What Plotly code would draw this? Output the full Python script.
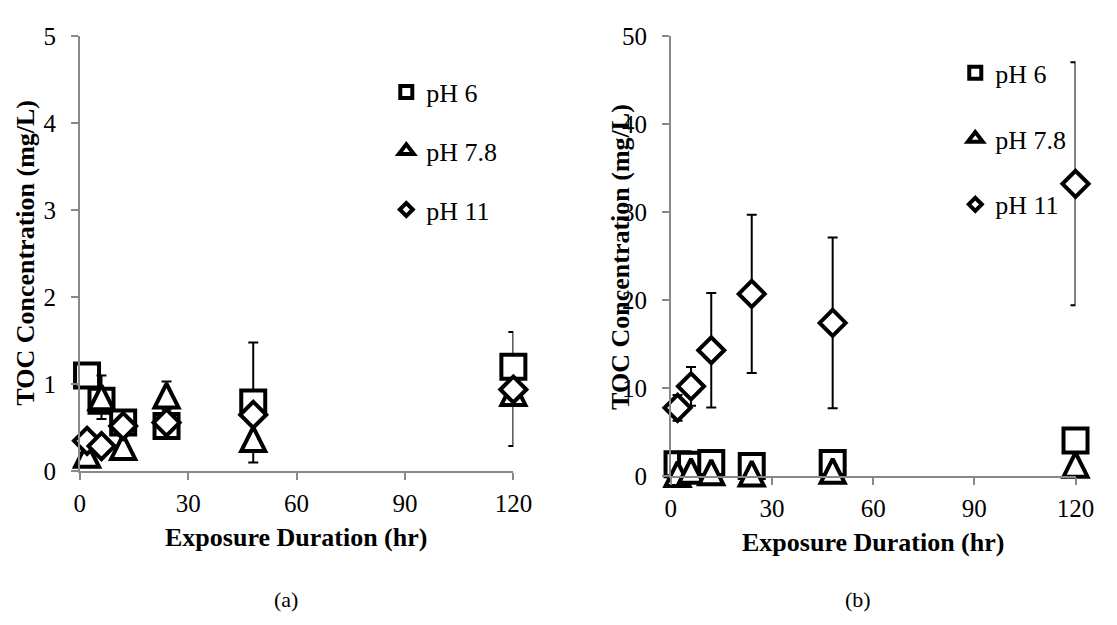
import plotly.graph_objects as go

# ---------------- data ----------------
hours = [2, 6, 12, 24, 48, 120]

# panel (a)
a_ph6 = [1.10, 0.81, 0.56, 0.52, 0.79, 1.20]
a_ph78 = [0.19, 0.85, 0.28, 0.87, 0.37, 0.90]
a_ph11 = [0.35, 0.29, 0.52, 0.56, 0.65, 0.94]
a_ph6_err_plus = [None, None, None, None, 0.69, 0.40]
a_ph6_err_minus = [None, None, None, None, 0.69, 0.91]
a_ph78_err = [None, 0.25, None, 0.16, None, None]

# panel (b)
b_ph6 = [1.35, 1.30, 1.50, 1.15, 1.50, 4.05]
b_ph78 = [0.25, 0.60, 0.45, 0.30, 0.60, 1.30]
b_ph11 = [7.75, 10.2, 14.3, 20.7, 17.4, 33.2]
b_ph11_err = [1.45, 2.2, 6.5, 9.0, 9.7, 13.8]

series_names = ["pH 6", "pH 7.8", "pH 11"]
x_ticks = [0, 30, 60, 90, 120]
a_y_ticks = [0, 1, 2, 3, 4, 5]
b_y_ticks = [0, 10, 20, 30, 40, 50]

x_title = "Exposure Duration (hr)"
y_title = "TOC Concentration (mg/L)"
captions = ["(a)", "(b)"]

# ---------------- style ----------------
FONT = "Liberation Serif, Times New Roman, serif"
AX_COL = "#898989"
LW = 4
SQ = 24
TRI = 24
DIA = 20

def sym(kind, size, legend=False):
    if kind == "square":
        return dict(symbol="square", size=size, color="white",
                    line=dict(color="black", width=LW))
    if kind == "triangle":
        if legend:
            return dict(symbol="triangle-up", size=size, color="white",
                        line=dict(color="black", width=LW))
        return dict(symbol="arrow-down", angle=180, standoff=size / 2, size=size,
                    color="white", line=dict(color="black", width=LW))
    return dict(symbol="diamond", size=size, color="white",
                line=dict(color="black", width=LW))

def err(plus, minus=None):
    d = dict(type="data", array=plus, color="black", thickness=2, width=5,
             visible=True)
    if minus is not None:
        d["symmetric"] = False
        d["arrayminus"] = minus
    return d

fig = go.Figure()

# panel (a)
fig.add_trace(go.Scatter(x=hours, y=a_ph6, mode="markers", marker=sym("square", SQ),
                         error_y=err(a_ph6_err_plus, a_ph6_err_minus),
                         cliponaxis=False, showlegend=False, xaxis="x", yaxis="y"))
fig.add_trace(go.Scatter(x=hours, y=a_ph78, mode="markers", marker=sym("triangle", TRI),
                         error_y=err(a_ph78_err),
                         cliponaxis=False, showlegend=False, xaxis="x", yaxis="y"))
fig.add_trace(go.Scatter(x=hours, y=a_ph11, mode="markers", marker=sym("diamond", DIA),
                         cliponaxis=False, showlegend=False, xaxis="x", yaxis="y"))

# panel (b)
fig.add_trace(go.Scatter(x=hours, y=b_ph6, mode="markers", marker=sym("square", SQ),
                         cliponaxis=False, showlegend=False, xaxis="x2", yaxis="y2"))
fig.add_trace(go.Scatter(x=hours, y=b_ph78, mode="markers", marker=sym("triangle", TRI),
                         cliponaxis=False, showlegend=False, xaxis="x2", yaxis="y2"))
fig.add_trace(go.Scatter(x=hours, y=b_ph11, mode="markers", marker=sym("diamond", DIA),
                         error_y=err(b_ph11_err),
                         cliponaxis=False, showlegend=False, xaxis="x2", yaxis="y2"))

# legend entries (small symbols)
kinds = ["square", "triangle", "diamond"]
leg_sizes = [12, 13, 10]
for lg, xa, ya in [("legend", "x", "y"), ("legend2", "x2", "y2")]:
    for i, (name, kind) in enumerate(zip(series_names, kinds)):
        fig.add_trace(go.Scatter(x=[None], y=[None], mode="markers", name=name,
                                 marker=sym(kind, leg_sizes[i], legend=True), legend=lg,
                                 legendgroup=lg + str(i), showlegend=True,
                                 xaxis=xa, yaxis=ya))

axis_common = dict(showline=True, linecolor=AX_COL, linewidth=1.5, ticks="outside",
                   ticklen=7, tickwidth=1.5, tickcolor=AX_COL, showgrid=False,
                   zeroline=False, tickfont=dict(family=FONT, size=25, color="black"),
                   fixedrange=True)

W, H = 1117, 625
fig.update_layout(
    width=W, height=H, margin=dict(l=0, r=0, t=0, b=0),
    paper_bgcolor="white", plot_bgcolor="white",
    font=dict(family=FONT, size=25, color="black"),
    xaxis=dict(domain=[75.5 / W, 519 / W], range=[0, 120], tickvals=x_ticks,
               anchor="y", ticklabelstandoff=2, **axis_common),
    yaxis=dict(domain=[1 - 479 / H, 1 - 24 / H], range=[0, 5], tickvals=a_y_ticks,
               anchor="x", ticklabelstandoff=10, **axis_common),
    xaxis2=dict(domain=[680 / W, 1094 / W], range=[0, 120], tickvals=x_ticks,
                anchor="y2", ticklabelstandoff=2, **axis_common),
    yaxis2=dict(domain=[1 - 484 / H, 1 - 24 / H], range=[0, 50], tickvals=b_y_ticks,
                anchor="x2", ticklabelstandoff=10, **axis_common),
    legend=dict(x=389 / W, y=1 - 58 / H, xanchor="left", yanchor="top",
                font=dict(family=FONT, size=26), tracegroupgap=22,
                bgcolor="rgba(0,0,0,0)", borderwidth=0),
    legend2=dict(x=971 / W, y=1 - 38 / H, xanchor="left", yanchor="top",
                 font=dict(family=FONT, size=26), tracegroupgap=29,
                 bgcolor="rgba(0,0,0,0)", borderwidth=0),
)

ann = []
ann.append(dict(text=f"<b>{x_title}</b>", x=297 / W, y=1 - 548 / H, xref="paper", yref="paper",
                showarrow=False, xanchor="center", yanchor="middle",
                font=dict(family=FONT, size=26)))
ann.append(dict(text=f"<b>{x_title}</b>", x=887 / W, y=1 - 553 / H, xref="paper", yref="paper",
                showarrow=False, xanchor="center", yanchor="middle",
                font=dict(family=FONT, size=26)))
ann.append(dict(text=f"<b>{y_title}</b>", x=20 / W, y=1 - 251 / H, xref="paper", yref="paper",
                showarrow=False, xanchor="center", yanchor="middle", textangle=-90,
                font=dict(family=FONT, size=26)))
ann.append(dict(text=f"<b>{y_title}</b>", x=629 / W, y=1 - 255 / H, xref="paper", yref="paper",
                showarrow=False, xanchor="center", yanchor="middle", textangle=-90,
                font=dict(family=FONT, size=26)))
ann.append(dict(text=captions[0], x=286 / W, y=1 - 613 / H, xref="paper", yref="paper",
                showarrow=False, xanchor="center", yanchor="middle",
                font=dict(family=FONT, size=22)))
ann.append(dict(text=captions[1], x=871 / W, y=1 - 613 / H, xref="paper", yref="paper",
                showarrow=False, xanchor="center", yanchor="middle",
                font=dict(family=FONT, size=22)))
fig.update_layout(annotations=ann)

fig.write_html("out.html", config=dict(displayModeBar=False))
